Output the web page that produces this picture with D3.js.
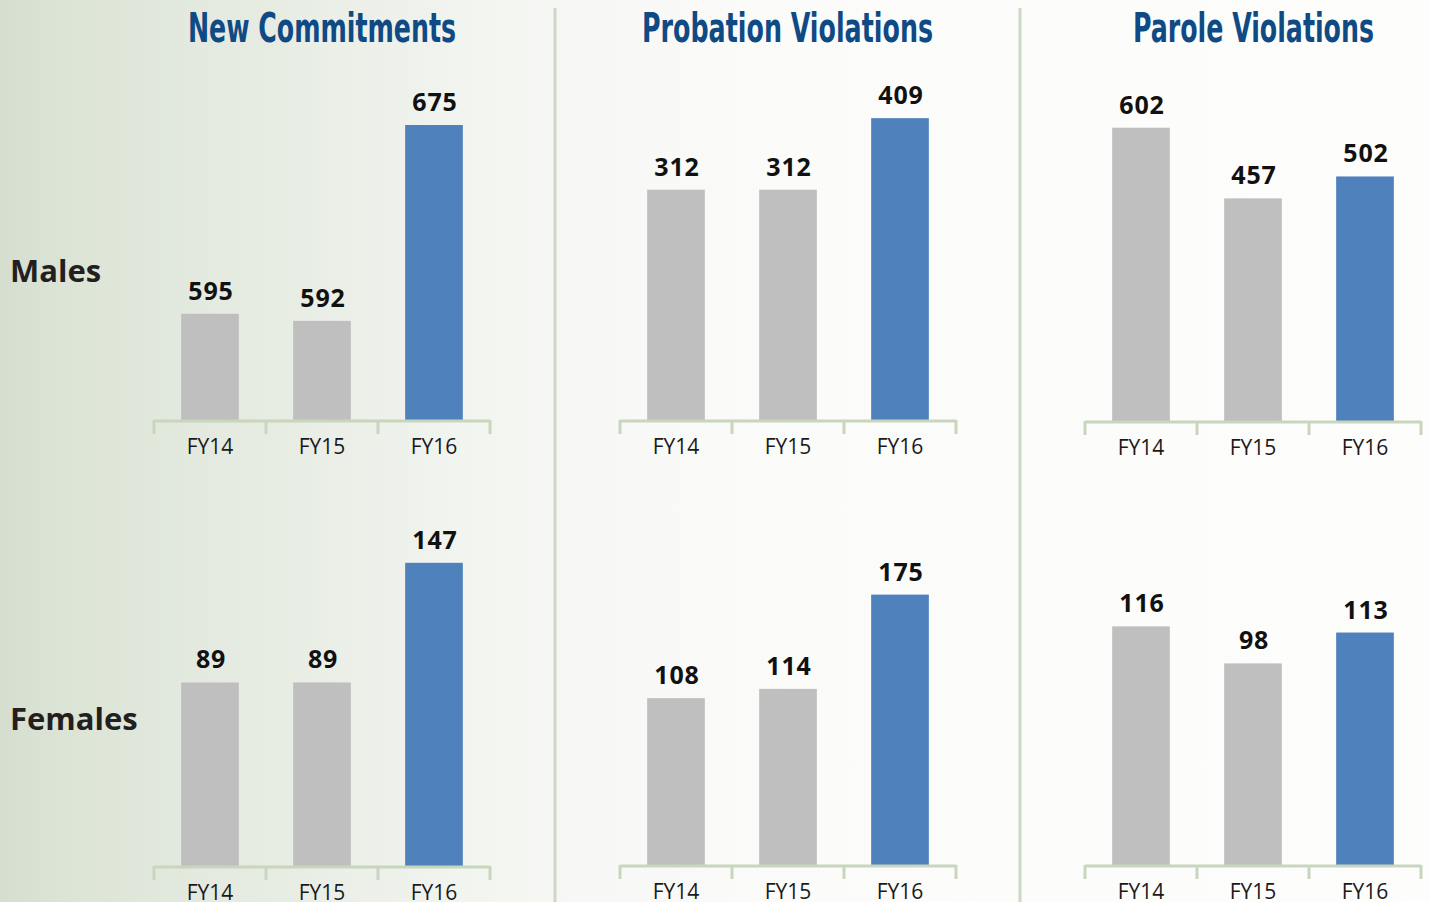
<!DOCTYPE html>
<html><head><meta charset="utf-8">
<script src="https://cdn.jsdelivr.net/npm/d3@7"></script>
<style>html,body{margin:0;padding:0;background:#fff}svg{display:block}</style>
</head><body>
<svg id="chart" width="1430" height="902"></svg>
<script>
// ---- data ----
const categories = ["FY14", "FY15", "FY16"];
const panelTitles = ["New Commitments", "Probation Violations", "Parole Violations"];
const rowLabels = ["Males", "Females"];
const malesNewCommitments = [595, 592, 675];
const malesProbation = [312, 312, 409];
const malesParole = [602, 457, 502];
const femalesNewCommitments = [89, 89, 147];
const femalesProbation = [108, 114, 175];
const femalesParole = [116, 98, 113];
// axis extents (value domain of each small chart)
const malesDomains = [[550, 700], [0, 500], [0, 700]];
const femalesDomains = [[0, 160], [0, 200], [0, 140]];

const svg = d3.select("#chart");
const W = 1430, H = 902;

// background gradient
const defs = svg.append("defs");
const g = defs.append("linearGradient").attr("id", "bg").attr("x1", 0).attr("x2", 1).attr("y1", 0).attr("y2", 0);
[[0, "#d6dfcf"], [0.06, "#dde5d7"], [0.2, "#e8ede4"], [0.32, "#f1f4ef"], [0.4, "#f7f8f5"], [0.55, "#fbfbfa"], [1, "#fdfdfc"]]
  .forEach(([o, c]) => g.append("stop").attr("offset", o).attr("stop-color", c));
svg.append("rect").attr("width", W).attr("height", H).attr("fill", "url(#bg)");

// separators
[555, 1020].forEach(x => svg.append("line").attr("x1", x).attr("x2", x).attr("y1", 8).attr("y2", H)
  .attr("stroke", "#ccd8c4").attr("stroke-width", 3));

// titles
const titleCenters = [322, 787.5, 1253.5];
const titleWidths = [268, 291, 241];
panelTitles.forEach((t, i) => {
  svg.append("text").attr("x", titleCenters[i]).attr("y", 42).attr("text-anchor", "middle")
    .attr("font-family", "'Liberation Sans Narrow','DejaVu Sans Condensed','Roboto Condensed',sans-serif")
    .attr("font-stretch", "condensed").attr("font-weight", "bold").attr("font-size", 41)
    .attr("fill", "#0f4a85").attr("textLength", titleWidths[i]).attr("lengthAdjust", "spacingAndGlyphs")
    .text(t);
});

// row labels
const rowLabelY = [282, 730];
rowLabels.forEach((t, i) => {
  svg.append("text").attr("x", 10).attr("y", rowLabelY[i])
    .attr("font-family", "'Open Sans','Noto Sans',sans-serif").attr("font-weight", "bold")
    .attr("font-size", 31).attr("fill", "#231f20").text(t);
});

const colX = [154, 620, 1085];
const colW = 336;
const rows = [
  { values: [malesNewCommitments, malesProbation, malesParole], domains: malesDomains,
    baselines: [420, 420, 421], tops: [66, 51, 80] },
  { values: [femalesNewCommitments, femalesProbation, femalesParole], domains: femalesDomains,
    baselines: [866, 865, 865], tops: [536, 556, 577] }
];
const colors = ["#bfbfbf", "#bfbfbf", "#4f81bd"];

rows.forEach(row => {
  row.values.forEach((vals, ci) => {
    const x = d3.scaleBand().domain(categories).range([colX[ci], colX[ci] + colW]).padding(0);
    const base = row.baselines[ci];
    const y = d3.scaleLinear().domain(row.domains[ci]).range([base, row.tops[ci]]);
    const bw = x.bandwidth() * 0.515;
    const gp = svg.append("g");
    gp.selectAll("rect.bar").data(vals).join("rect").attr("class", "bar")
      .attr("x", (d, i) => x(categories[i]) + (x.bandwidth() - bw) / 2)
      .attr("width", bw)
      .attr("y", d => y(d))
      .attr("height", d => base - y(d))
      .attr("fill", (d, i) => colors[i]);
    // value labels
    gp.selectAll("text.val").data(vals).join("text").attr("class", "val")
      .attr("x", (d, i) => x(categories[i]) + x.bandwidth() / 2 + 1)
      .attr("y", d => y(d) - 14)
      .attr("text-anchor", "middle")
      .attr("font-family", "'Open Sans','Noto Sans',sans-serif").attr("font-weight", "bold")
      .attr("font-size", 25).attr("letter-spacing", 0.8).attr("fill", "#111").text(d => d);
    // axis line + ticks
    const axisColor = "#c8d6bd";
    gp.append("line").attr("x1", colX[ci]).attr("x2", colX[ci] + colW).attr("y1", base + 1).attr("y2", base + 1)
      .attr("stroke", axisColor).attr("stroke-width", 3);
    const edges = categories.map(c => x(c)).concat([x.range()[1]]);
    gp.selectAll("line.tick").data(edges).join("line").attr("class", "tick")
      .attr("x1", d => d).attr("x2", d => d).attr("y1", base).attr("y2", base + 14)
      .attr("stroke", axisColor).attr("stroke-width", 3);
    // category labels
    gp.selectAll("text.cat").data(categories).join("text").attr("class", "cat")
      .attr("x", c => x(c) + x.bandwidth() / 2)
      .attr("y", base + 34)
      .attr("text-anchor", "middle")
      .attr("font-family", "'Open Sans','Noto Sans',sans-serif")
      .attr("font-size", 21).attr("fill", "#1a1a1a").text(c => c);
  });
});
</script>
</body></html>
